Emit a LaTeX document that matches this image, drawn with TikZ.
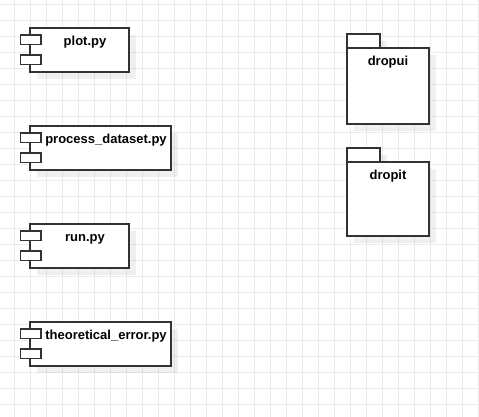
\documentclass[tikz,border=0pt]{standalone}
\usepackage{fontspec}
\setmainfont{Liberation Sans}
\usetikzlibrary{shadows}
\definecolor{gridc}{HTML}{EBEBEB}
\definecolor{edgec}{HTML}{333333}
\begin{document}
\begin{tikzpicture}[x=1pt,y=-1pt,
 gridline/.style={draw=gridc, line width=0.9pt},
 shp/.style={draw=edgec, line width=1.25pt, fill=white, inner sep=0pt, outer sep=0pt, anchor=north west},
 shd/.style={drop shadow={shadow xshift=7pt, shadow yshift=-7pt, fill=black, opacity=0.06}},
 lbl/.style={anchor=base, font=\fontsize{13}{15}\selectfont\bfseries, inner sep=0pt}]
\useasboundingbox (0,0) rectangle (479,417);
\fill[white] (0,0) rectangle (479,417);
\foreach \i in {0,...,29} \draw[gridline] (14+16*\i,0) -- (14+16*\i,417);
\foreach \j in {0,...,25} \draw[gridline] (0,4+16*\j) -- (479,4+16*\j);
% plot.py
\node[shp,shd,minimum width=99pt,minimum height=44pt] (plot) at (30,28) {};
\node[shp,minimum width=20.5pt,minimum height=9.5pt] (plota) at (20.5,35) {};
\node[shp,minimum width=20.5pt,minimum height=9.5pt] (plotb) at (20.5,55) {};
\node[lbl] (plotl) at (85,46) {plot.py};
% process_dataset.py
\node[shp,shd,minimum width=141pt,minimum height=44pt] (proc) at (30,126) {};
\node[shp,minimum width=20.5pt,minimum height=9.5pt] (proca) at (20.5,133) {};
\node[shp,minimum width=20.5pt,minimum height=9.5pt] (procb) at (20.5,153) {};
\node[lbl] (procl) at (106,143.5) {process\_dataset.py};
% run.py
\node[shp,shd,minimum width=99pt,minimum height=44pt] (run) at (30,224) {};
\node[shp,minimum width=20.5pt,minimum height=9.5pt] (runa) at (20.5,231) {};
\node[shp,minimum width=20.5pt,minimum height=9.5pt] (runb) at (20.5,251) {};
\node[lbl] (runl) at (85,241.5) {run.py};
% theoretical_error.py
\node[shp,shd,minimum width=141pt,minimum height=44pt] (theo) at (30,322) {};
\node[shp,minimum width=20.5pt,minimum height=9.5pt] (theoa) at (20.5,329) {};
\node[shp,minimum width=20.5pt,minimum height=9.5pt] (theob) at (20.5,349) {};
\node[lbl] (theol) at (106,339.5) {theoretical\_error.py};
% dropui
\node[shp,shd,minimum width=33pt,minimum height=14pt] (uitab) at (347,34) {};
\node[shp,shd,minimum width=82pt,minimum height=76pt] (ui) at (347,48) {};
\node[lbl] (uil) at (388,66) {dropui};
% dropit
\node[shp,shd,minimum width=33pt,minimum height=14pt] (ittab) at (347,148) {};
\node[shp,shd,minimum width=82pt,minimum height=74pt] (it) at (347,162) {};
\node[lbl] (itl) at (388,179.5) {dropit};
\end{tikzpicture}
\end{document}
